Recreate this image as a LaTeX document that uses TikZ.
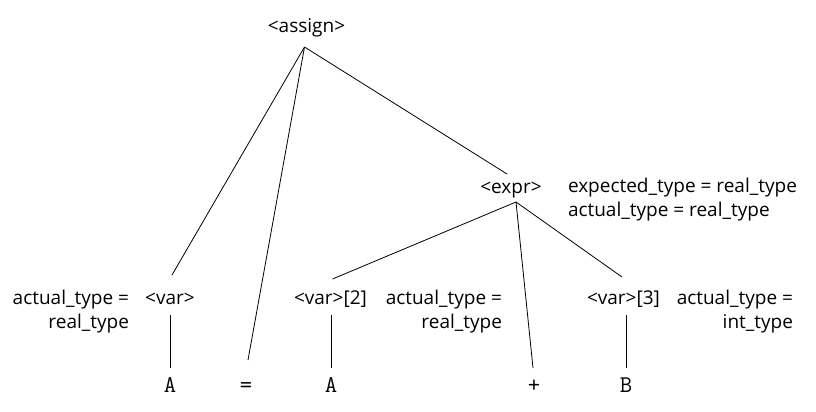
\documentclass[tikz,border=0pt]{standalone}
\usepackage{fontspec}
\setmainfont{Open Sans}
\newfontfamily\termfont{Latin Modern Mono}
\begin{document}
\begin{tikzpicture}[x=1pt,y=-1pt,
  every node/.style={inner sep=0pt,outer sep=0pt},
  nt/.style={font=\fontsize{19}{24}\selectfont,text height=14pt,text depth=5pt,anchor=base},
  term/.style={font=\termfont\fontsize{24}{26}\selectfont,text height=11pt,text depth=0pt,anchor=base},
  attr/.style={font=\fontsize{19}{24}\selectfont},
  edge/.style={line width=0.8pt}]
\useasboundingbox (0,0) rectangle (816,412);
% nonterminals
\node[nt] (assign) at (306.5,33) {<assign>};
\node[nt] (expr) at (511,193) {<expr>};
\node[nt] (var1) at (170,304) {<var>};
\node[nt] (var2) at (330.5,304) {<var>[2]};
\node[nt] (var3) at (623.5,304) {<var>[3]};
% terminals
\node[term] (A1) at (170,392) {A};
\node[term] (eq) at (246,392) {=};
\node[term] (A2) at (331,392) {A};
\node[term] (plus) at (534,392) {+};
\node[term] (B) at (626,392) {B};
% attributes (base anchor = baseline of last line)
\node[attr,align=right,anchor=base east] (l1) at (129,328) {actual\_type =\\real\_type};
\node[attr,align=right,anchor=base east] (l2) at (502,328) {actual\_type =\\real\_type};
\node[attr,align=right,anchor=base east] (l3) at (793,328) {actual\_type =\\int\_type};
\node[attr,align=left,anchor=base west] (l4) at (568,216) {expected\_type = real\_type\\actual\_type = real\_type};
% edges
\draw[edge] ([xshift=-2pt,yshift=-9pt]assign.south) -- ([xshift=2pt,yshift=15pt]var1.north);
\draw[edge] ([xshift=-2pt,yshift=-9pt]assign.south) -- ([xshift=2pt,yshift=21pt]eq.north);
\draw[edge] ([xshift=-2pt,yshift=-9pt]assign.south) -- ([xshift=-4pt,yshift=5pt]expr.north);
\draw[edge] ([xshift=5pt,yshift=-4pt]expr.south) -- ([xshift=2pt,yshift=11pt]var2.north);
\draw[edge] ([xshift=5pt,yshift=-4pt]expr.south) -- ([xshift=-1pt,yshift=13pt]plus.north);
\draw[edge] ([xshift=5pt,yshift=-4pt]expr.south) -- ([xshift=-1.5pt,yshift=13pt]var3.north);
\draw[edge,shorten <=6pt,shorten >=13pt] (A1.north |- var1.south) -- (A1.north);
\draw[edge,shorten <=6pt,shorten >=13pt] (A2.north |- var2.south) -- (A2.north);
\draw[edge,shorten <=6pt,shorten >=13pt] (B.north |- var3.south) -- (B.north);
\end{tikzpicture}
\end{document}
